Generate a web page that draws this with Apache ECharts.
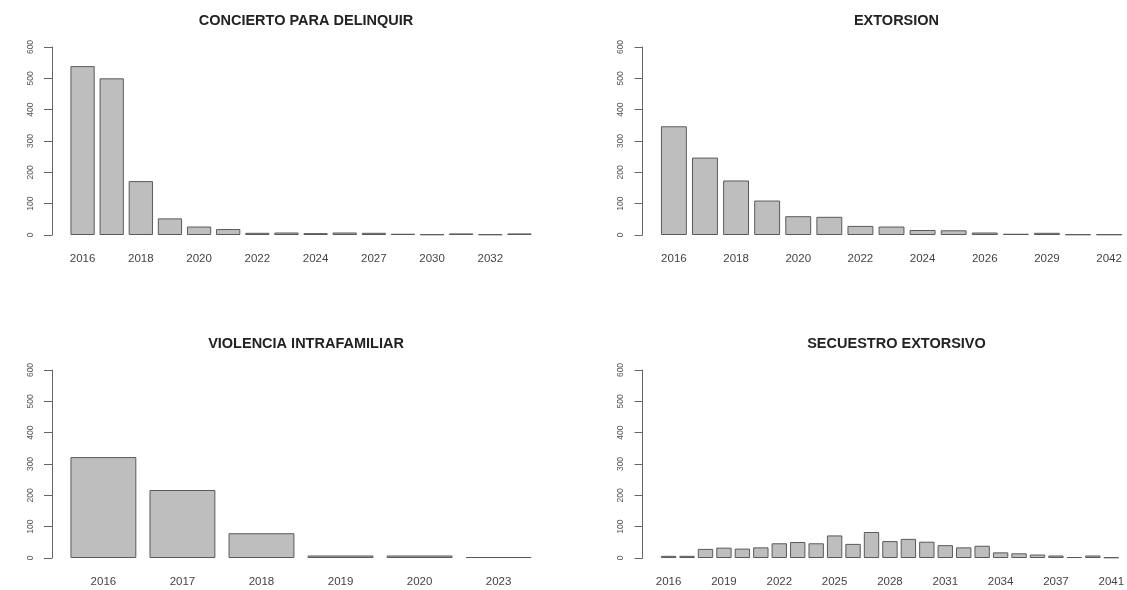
<!DOCTYPE html>
<html>
<head>
<meta charset="utf-8">
<script src="https://cdn.jsdelivr.net/npm/echarts@6/dist/echarts.min.js"></script>
<style>
  html, body { margin: 0; padding: 0; background: #ffffff; overflow: hidden; }
  #chart { width: 1127px; height: 590px; }
</style>
</head>
<body>
<div id="chart"></div>
<script>
// Yearly counts per offence type
const concYears = ['2016','2017','2018','2019','2020','2021','2022','2023','2024','2025','2027','2028','2030','2031','2032','2033'];
const concValues = [539, 500, 172, 53, 27, 19, 7, 8, 6, 8, 7, 4, 2, 5, 2, 5];

const extYears = ['2016','2017','2018','2019','2020','2021','2022','2023','2024','2025','2026','2027','2029','2031','2042'];
const extValues = [347, 247, 174, 110, 60, 58, 29, 27, 16, 15, 8, 4, 7, 2, 2];

const vioYears = ['2016','2017','2018','2019','2020','2023'];
const vioValues = [322, 217, 79, 8, 8, 3];

const secYears = ['2016','2017','2018','2019','2020','2021','2022','2023','2024','2025','2026','2027','2028','2029','2030','2031','2032','2033','2034','2035','2036','2037','2038','2040','2041'];
const secValues = [7, 7, 29, 33, 30, 34, 47, 51, 47, 72, 45, 83, 54, 61, 52, 41, 34, 39, 18, 15, 11, 8, 3, 8, 2];

const yTicks = { min: 0, max: 600, interval: 100 };

// The right-hand plot regions run past the page edge, so their last labels are clipped
const panels = [
  { title: 'CONCIERTO PARA DELINQUIR', cats: concYears, vals: concValues, region: [52, 550], y: [47, 235], labelEvery: 1 },
  { title: 'EXTORSION', cats: extYears, vals: extValues, region: [642.5, 1140.5], y: [47, 235], labelEvery: 1 },
  { title: 'VIOLENCIA INTRAFAMILIAR', cats: vioYears, vals: vioValues, region: [52, 550], y: [370, 558], labelEvery: 0 },
  { title: 'SECUESTRO EXTORSIVO', cats: secYears, vals: secValues, region: [642.5, 1140.5], y: [370, 558], labelEvery: 2 }
];

// Bars of width 1 separated by 0.2, with 4% padding on the plot region
function placeBars(n, left, right) {
  const span = n * 1.2 - 0.2;
  const ppu = (right - left) / (span * 1.08);
  const gridLeft = left + (0.04 * span - 0.1) * ppu;
  return { gridLeft: gridLeft, gridWidth: n * 1.2 * ppu, offset: gridLeft - left };
}

const font = '"Liberation Sans", Arial, Helvetica, sans-serif';
const grid = [], xAxis = [], yAxis = [], series = [], title = [];

panels.forEach(function (p, i) {
  const g = placeBars(p.cats.length, p.region[0], p.region[1]);
  grid.push({ left: g.gridLeft, width: g.gridWidth, top: p.y[0], height: p.y[1] - p.y[0], containLabel: false });
  title.push({
    text: p.title,
    left: (p.region[0] + p.region[1]) / 2,
    top: p.y[0] - 39,
    textAlign: 'center',
    textStyle: { fontFamily: font, fontSize: 14.5, fontWeight: 'bold', color: '#222' }
  });
  xAxis.push({
    type: 'category', gridIndex: i, data: p.cats, boundaryGap: true,
    axisLine: { show: false }, axisTick: { show: false },
    axisLabel: { interval: p.labelEvery, fontFamily: font, fontSize: 11.5, color: '#444', margin: 18 }
  });
  yAxis.push({
    type: 'value', gridIndex: i, min: yTicks.min, max: yTicks.max, interval: yTicks.interval,
    offset: g.offset,
    axisLine: { show: true, lineStyle: { color: '#666', width: 1 } },
    axisTick: { show: true, length: 8, lineStyle: { color: '#666' } },
    splitLine: { show: false },
    axisLabel: { rotate: 90, fontFamily: font, fontSize: 8.5, color: '#555', margin: 17 }
  });
  series.push({
    type: 'bar', xAxisIndex: i, yAxisIndex: i, data: p.vals,
    barCategoryGap: '16.67%',
    itemStyle: { color: '#bebebe', borderColor: '#5a5a5a', borderWidth: 1 },
    silent: true
  });
});

const chart = echarts.init(document.getElementById('chart'), null, { renderer: 'canvas' });
chart.setOption({
  backgroundColor: '#ffffff',
  animation: false,
  title: title, grid: grid, xAxis: xAxis, yAxis: yAxis, series: series
});
</script>
</body>
</html>
